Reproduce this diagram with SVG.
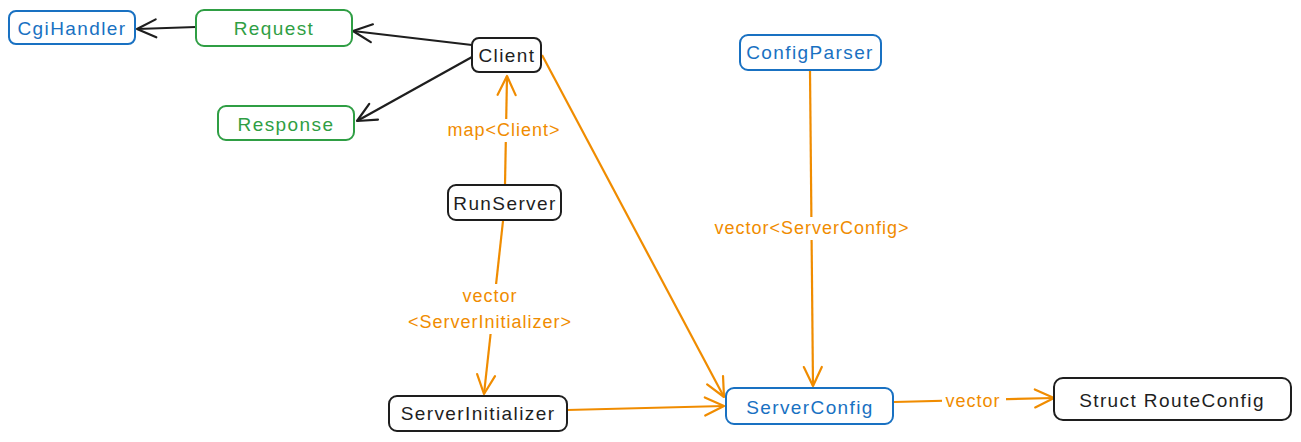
<svg xmlns="http://www.w3.org/2000/svg" width="1301" height="442" viewBox="0 0 1301 442">
<style>
.box{fill:#ffffff;stroke-width:2;}
.k{stroke:#1e1e1e;}
.b{stroke:#1971c2;}
.g{stroke:#2f9e44;}
text{font-family:"Liberation Sans","DejaVu Sans",sans-serif;font-size:19px;text-anchor:middle;dominant-baseline:central;letter-spacing:1.4px;}
.tk{fill:#1e1e1e;}
.tb{fill:#1971c2;}
.tg{fill:#2f9e44;}
.to{fill:#f08c00;font-size:18px;letter-spacing:1px;}
.ck{stroke:#1e1e1e;stroke-width:2.2;fill:none;}
.co{stroke:#f08c00;stroke-width:2.2;fill:none;}
.lbl{fill:#ffffff;}
</style>
<defs>
<marker id="ak" markerUnits="userSpaceOnUse" markerWidth="26" markerHeight="26" viewBox="0 0 26 26" refX="23" refY="13" orient="auto">
<path d="M4,4 L23,13 L4,22" fill="none" stroke="#1e1e1e" stroke-width="2.2" stroke-linecap="round" stroke-linejoin="round"/>
</marker>
<marker id="ao" markerUnits="userSpaceOnUse" markerWidth="26" markerHeight="26" viewBox="0 0 26 26" refX="23" refY="13" orient="auto">
<path d="M4,4 L23,13 L4,22" fill="none" stroke="#f08c00" stroke-width="2.2" stroke-linecap="round" stroke-linejoin="round"/>
</marker>
</defs>
<g id="connectors">
<line class="ck" x1="196" y1="27" x2="137" y2="29" marker-end="url(#ak)"/>
<line class="ck" x1="472" y1="45" x2="353" y2="31" marker-end="url(#ak)"/>
<line class="ck" x1="472" y1="57" x2="357" y2="121" marker-end="url(#ak)"/>
<line class="co" x1="505" y1="185" x2="507" y2="76" marker-end="url(#ao)"/>
<line class="co" x1="503" y1="221" x2="484" y2="394" marker-end="url(#ao)"/>
<line class="co" x1="542" y1="55" x2="724" y2="397" marker-end="url(#ao)"/>
<line class="co" x1="810" y1="71" x2="813" y2="386" marker-end="url(#ao)"/>
<line class="co" x1="567" y1="410" x2="724" y2="406" marker-end="url(#ao)"/>
<line class="co" x1="894" y1="402" x2="1054" y2="398" marker-end="url(#ao)"/>
<rect class="lbl" x="446" y="119" width="118" height="23"/>
<text class="to" x="504" y="130">map&lt;Client&gt;</text>
<rect class="lbl" x="398" y="284" width="186" height="50"/>
<text class="to" x="490" y="296">vector</text>
<text class="to" x="490" y="322">&lt;ServerInitializer&gt;</text>
<rect class="lbl" x="706" y="217" width="212" height="23"/>
<text class="to" x="812" y="228">vector&lt;ServerConfig&gt;</text>
<rect class="lbl" x="942" y="390" width="64" height="23"/>
<text class="to" x="973" y="401">vector</text>
</g>
<g id="CgiHandler">
<rect class="box b" x="9" y="11" width="126" height="33" rx="7"/>
<text class="tb" x="72" y="28">CgiHandler</text>
</g>
<g id="Request">
<rect class="box g" x="196" y="10" width="156" height="36" rx="8"/>
<text class="tg" x="274" y="28">Request</text>
</g>
<g id="Client">
<rect class="box k" x="472" y="38" width="69" height="34" rx="7"/>
<text class="tk" x="507" y="55">Client</text>
</g>
<g id="Response">
<rect class="box g" x="218" y="106" width="136" height="34" rx="8"/>
<text class="tg" x="286" y="124">Response</text>
</g>
<g id="RunServer">
<rect class="box k" x="448" y="185" width="113" height="35" rx="8"/>
<text class="tk" x="505" y="203">RunServer</text>
</g>
<g id="ServerInitializer">
<rect class="box k" x="389" y="396" width="178" height="35" rx="8"/>
<text class="tk" x="478" y="413">ServerInitializer</text>
</g>
<g id="ConfigParser">
<rect class="box b" x="740" y="35" width="141" height="35" rx="8"/>
<text class="tb" x="810" y="52">ConfigParser</text>
</g>
<g id="ServerConfig">
<rect class="box b" x="726" y="388" width="167" height="36" rx="8"/>
<text class="tb" x="810" y="407">ServerConfig</text>
</g>
<g id="StructRouteConfig">
<rect class="box k" x="1054" y="378" width="237" height="42" rx="9"/>
<text class="tk" x="1172" y="400">Struct RouteConfig</text>
</g>
</svg>
